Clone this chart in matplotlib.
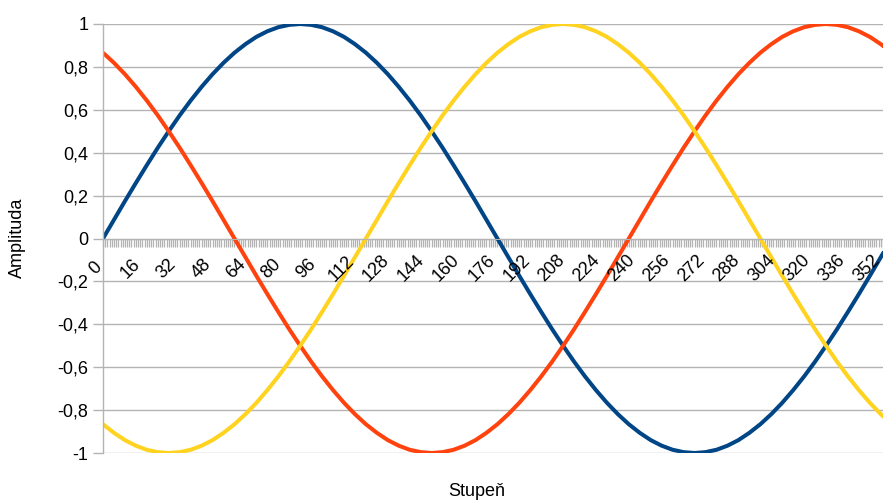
import numpy as np
import matplotlib
matplotlib.use("Agg")
import matplotlib.pyplot as plt
from matplotlib.transforms import ScaledTranslation

plt.rcParams["font.family"] = ["Liberation Sans", "DejaVu Sans"]

# values read every 5 degrees
degrees = np.arange(0, 361, 5)

blue = [0.0, 0.087, 0.174, 0.259, 0.342, 0.423, 0.5, 0.574, 0.643, 0.707, 0.766, 0.819, 0.866, 0.906, 0.94, 0.966, 0.985, 0.996, 1.0,
        0.996, 0.985, 0.966, 0.94, 0.906, 0.866, 0.819, 0.766, 0.707, 0.643, 0.574, 0.5, 0.423, 0.342, 0.259, 0.174, 0.087, 0.0,
        -0.087, -0.174, -0.259, -0.342, -0.423, -0.5, -0.574, -0.643, -0.707, -0.766, -0.819, -0.866, -0.906, -0.94, -0.966, -0.985, -0.996, -1.0,
        -0.996, -0.985, -0.966, -0.94, -0.906, -0.866, -0.819, -0.766, -0.707, -0.643, -0.574, -0.5, -0.423, -0.342, -0.259, -0.174, -0.087, 0.0]

red = [0.866, 0.819, 0.766, 0.707, 0.643, 0.574, 0.5, 0.423, 0.342, 0.259, 0.174, 0.087, 0.0,
       -0.087, -0.174, -0.259, -0.342, -0.423, -0.5, -0.574, -0.643, -0.707, -0.766, -0.819, -0.866, -0.906, -0.94, -0.966, -0.985, -0.996, -1.0,
       -0.996, -0.985, -0.966, -0.94, -0.906, -0.866, -0.819, -0.766, -0.707, -0.643, -0.574, -0.5, -0.423, -0.342, -0.259, -0.174, -0.087, 0.0,
       0.087, 0.174, 0.259, 0.342, 0.423, 0.5, 0.574, 0.643, 0.707, 0.766, 0.819, 0.866, 0.906, 0.94, 0.966, 0.985, 0.996, 1.0,
       0.996, 0.985, 0.966, 0.94, 0.906, 0.866]

yellow = [-0.866, -0.906, -0.94, -0.966, -0.985, -0.996, -1.0,
          -0.996, -0.985, -0.966, -0.94, -0.906, -0.866, -0.819, -0.766, -0.707, -0.643, -0.574, -0.5, -0.423, -0.342, -0.259, -0.174, -0.087, 0.0,
          0.087, 0.174, 0.259, 0.342, 0.423, 0.5, 0.574, 0.643, 0.707, 0.766, 0.819, 0.866, 0.906, 0.94, 0.966, 0.985, 0.996, 1.0,
          0.996, 0.985, 0.966, 0.94, 0.906, 0.866, 0.819, 0.766, 0.707, 0.643, 0.574, 0.5, 0.423, 0.342, 0.259, 0.174, 0.087, 0.0,
          -0.087, -0.174, -0.259, -0.342, -0.423, -0.5, -0.574, -0.643, -0.707, -0.766, -0.819, -0.866]

x_labels = list(range(0, 361, 16))
y_ticks = [-1, -0.8, -0.6, -0.4, -0.2, 0, 0.2, 0.4, 0.6, 0.8, 1]
y_labels = ["-1", "-0,8", "-0,6", "-0,4", "-0,2", "0", "0,2", "0,4", "0,6", "0,8", "1"]

grey = "#b3b3b3"
fs = 13

fig = plt.figure(figsize=(8.83, 5.0), dpi=100)
ax = fig.add_axes([103 / 883, 47 / 500, 1 - 103 / 883, 429 / 500])

ax.plot(degrees, blue, color="#004586", lw=2.9, solid_capstyle="butt")
ax.plot(degrees, red, color="#ff420e", lw=2.9, solid_capstyle="butt")
ax.plot(degrees, yellow, color="#ffd320", lw=2.9, solid_capstyle="butt")

ax.set_yticks(y_ticks)
ax.set_yticklabels(y_labels, fontsize=fs)
ax.yaxis.grid(True, color=grey, lw=1.0)
ax.set_axisbelow(True)
ax.tick_params(axis="y", length=7, width=1, color=grey, pad=3.5)

ax.set_xticks(np.arange(0, 361, 1))
ax.set_xticklabels([])
ax.tick_params(axis="x", length=5.5, width=0.9, color=grey, direction="out")

# chart is cut off on the right, just before 360
ax.set_xlim(0, 356)
ax.set_ylim(-1, 1)

for side in ["top", "right"]:
    ax.spines[side].set_visible(False)
ax.spines["bottom"].set_position(("data", 0))
ax.spines["bottom"].set_color(grey)
ax.spines["left"].set_color(grey)
ax.spines["left"].set_linewidth(1.0)

off = ScaledTranslation(-7 / 100, -30 / 100, fig.dpi_scale_trans)
for v in x_labels:
    ax.text(v, 0, str(v), transform=ax.transData + off, rotation=45,
            ha="center", va="center", rotation_mode="anchor", fontsize=fs)

fig.text(17 / 883, 1 - 238 / 500, "Amplituda", rotation=90, ha="center", va="center", fontsize=fs)
fig.text(477 / 883, 1 - 491 / 500, "Stupeň", ha="center", va="center", fontsize=fs)

fig.savefig("out.png", dpi=100)
